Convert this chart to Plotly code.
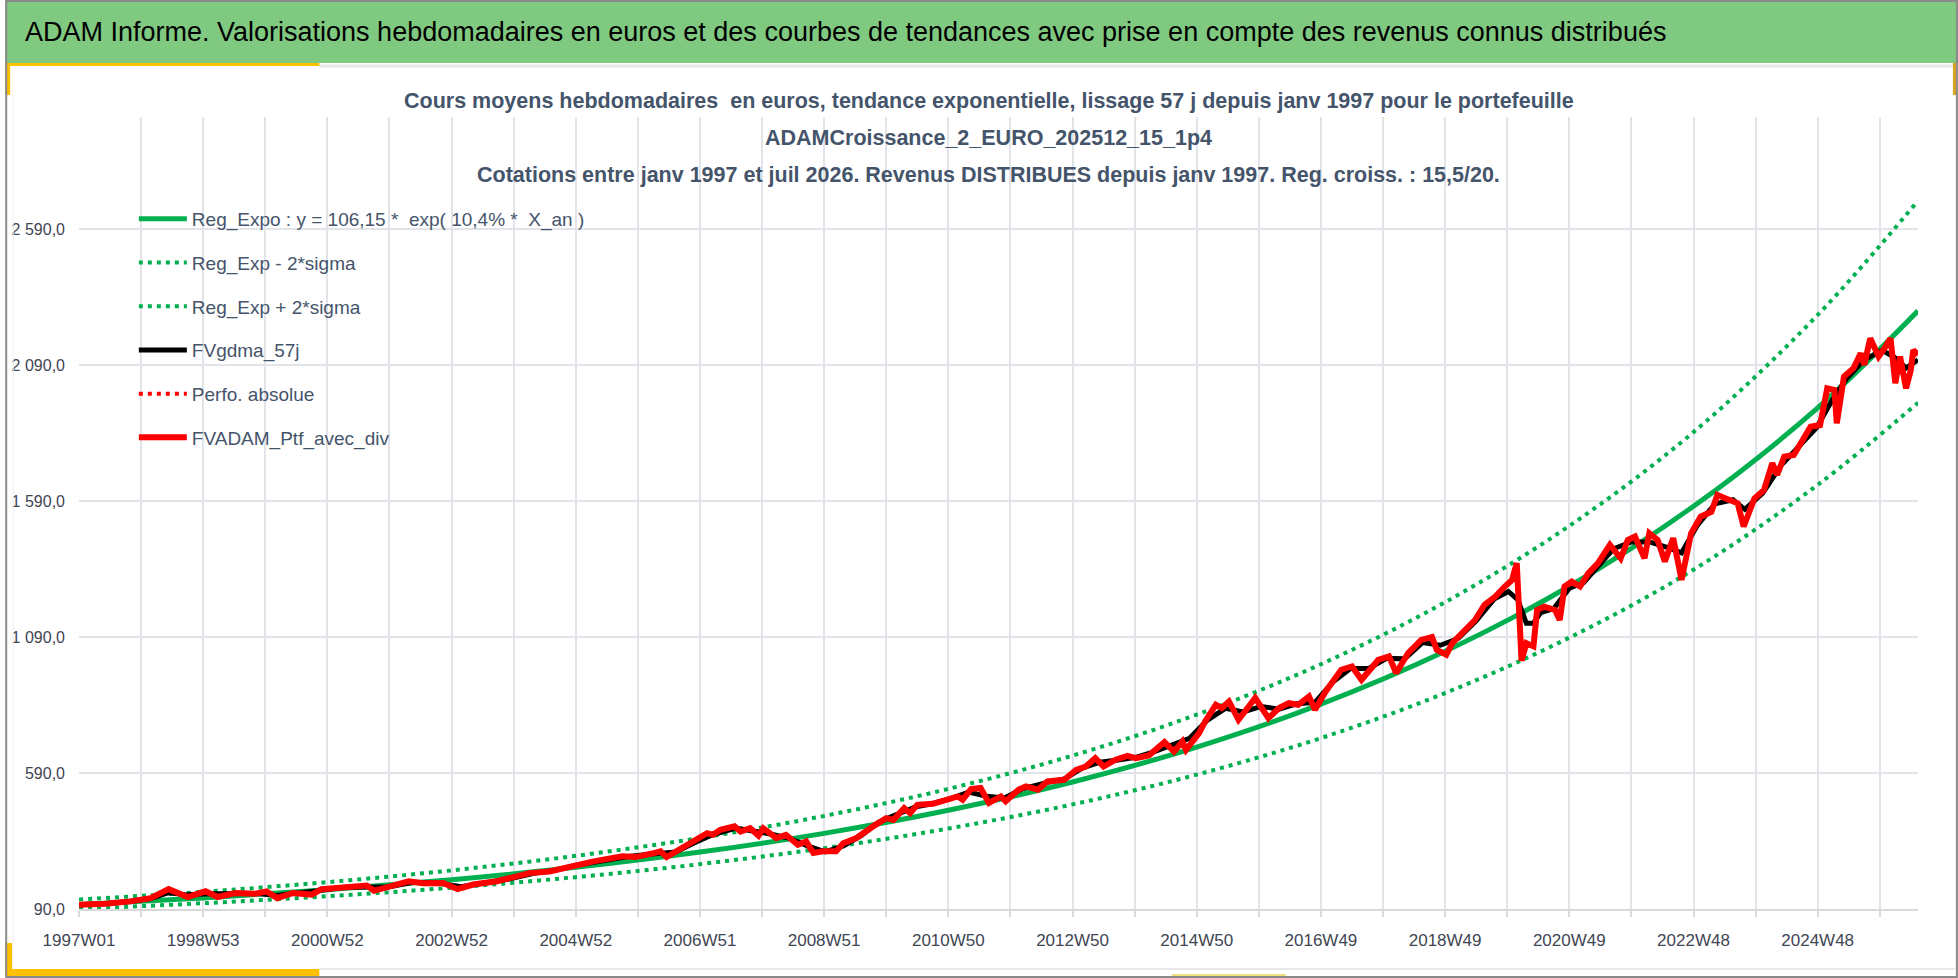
import plotly.graph_objects as go

# ---------------- data ----------------
# x = week index counted from 1997W01 (weekly category axis)
TICK_WEEKS = [0, 104, 208, 312, 416, 520, 624, 728, 832, 936, 1040, 1144, 1248, 1352, 1456]
TICK_LABELS = ["1997W01", "1998W53", "2000W52", "2002W52", "2004W52", "2006W51", "2008W51",
               "2010W50", "2012W50", "2014W50", "2016W49", "2018W49", "2020W49", "2022W48", "2024W48"]
GRID_WEEKS = list(range(0, 1509, 52))
LAST_WEEK = 1540

Y_TICKS = [90, 590, 1090, 1590, 2090, 2590]
Y_LABELS = ["90,0", "590,0", "1 090,0", "1 590,0", "2 090,0", "2 590,0"]

TREND_W = [0, 104, 208, 312, 416, 520, 624, 728, 832, 936, 1040, 1144, 1248, 1352, 1456, 1540]
TREND_V = [106.2, 130.6, 160.7, 197.7, 243.2, 299.3, 368.2, 453.0, 557.2, 685.6, 843.6,
           1037.9, 1277.0, 1571.0, 1933.0, 2290.0]
UPPER_V = [124.7, 153.3, 188.7, 232.1, 285.5, 351.4, 432.3, 531.8, 654.2, 804.9, 990.4,
           1218.5, 1499.0, 1844.0, 2275.0, 2695.0]
LOWER_V = [90.5, 111.3, 136.9, 168.4, 207.2, 255.0, 313.7, 386.0, 474.7, 584.1, 718.7,
           884.3, 1088.0, 1338.0, 1650.0, 1952.0]

RED_W = [0, 22, 43, 60, 75, 91, 106, 116, 131, 148, 157, 166, 179, 195, 203, 220, 241, 247,
         261, 276, 288, 305, 317, 330, 350, 363, 377, 394, 414, 431, 455, 466, 479, 487, 492,
         503, 515, 526, 531, 537, 549, 554, 562, 569, 573, 584, 592, 602, 609, 615, 623, 634,
         640, 651, 665, 676, 682, 691, 696, 702, 715, 726, 736, 740, 747, 755, 762, 772, 776,
         787, 793, 803, 811, 825, 835, 843, 851, 858, 868, 878, 885, 896, 909, 917, 924, 927,
         938, 943, 952, 957, 963, 971, 977, 985, 996, 1005, 1013, 1021, 1030, 1035, 1044,
         1057, 1066, 1074, 1088, 1097, 1103, 1113, 1124, 1133, 1137, 1145, 1150, 1161, 1169,
         1177, 1186, 1194, 1200, 1204, 1208, 1212, 1218, 1221, 1227, 1236, 1240, 1244, 1250,
         1257, 1264, 1272, 1282, 1291, 1297, 1303, 1311, 1315, 1322, 1328, 1335, 1342, 1350,
         1358, 1367, 1372, 1383, 1389, 1394, 1403, 1411, 1418, 1422, 1428, 1436, 1442, 1450,
         1458, 1464, 1470, 1472, 1478, 1486, 1492, 1495, 1500, 1507, 1511, 1517, 1521, 1525,
         1530, 1534, 1536, 1540]
RED_V = [106, 109, 118, 130, 163, 134, 155, 134, 149, 146, 155, 130, 149, 143, 163, 171, 176, 157,
         173, 192, 185, 186, 163, 180, 192, 204, 222, 228, 249, 265, 284, 281, 293, 302, 281,
         308, 338, 369, 363, 381, 394, 375, 387, 360, 387, 351, 363, 326, 338, 296, 302, 302,
         332, 351, 394, 424, 418, 461, 443, 473, 477, 492, 504, 492, 531, 535, 480, 504, 486,
         529, 541, 529, 559, 565, 602, 614, 645, 614, 639, 653, 645, 655, 704, 669, 706, 675,
         737, 780, 841, 829, 853, 786, 823, 866, 792, 829, 847, 841, 872, 823, 890,
         970, 982, 933, 1006, 1019, 958, 1031, 1080, 1090, 1043, 1025, 1068, 1117, 1153,
         1209, 1239, 1276, 1300, 1362, 1003, 1068, 1056, 1190, 1202, 1190, 1153, 1276, 1294,
         1276, 1325, 1362, 1429, 1380, 1447, 1460, 1380, 1472, 1447, 1368, 1454, 1300, 1472,
         1533, 1551, 1613, 1594, 1582, 1497, 1600, 1631, 1730, 1687, 1754, 1760, 1803, 1864,
         1870, 2005, 1999, 1876, 2048, 2079, 2134, 2091, 2189, 2122, 2146, 2189, 2024, 2122,
         2005, 2073, 2146, 2128]

BLACK_W = [0, 20, 40, 60, 75, 90, 110, 130, 150, 165, 180, 200, 220, 240, 260, 280, 300, 320,
           340, 360, 380, 400, 420, 440, 460, 480, 500, 515, 530, 550, 565, 580, 595, 610, 625,
           640, 655, 670, 685, 700, 715, 730, 745, 760, 775, 790, 810, 825, 840, 855, 870, 885,
           900, 915, 930, 945, 960, 975, 990, 1005, 1020, 1035, 1050, 1065, 1080, 1095, 1110,
           1125, 1140, 1155, 1170, 1185, 1197, 1205, 1212, 1218, 1224, 1235, 1248, 1260, 1272,
           1285, 1300, 1315, 1330, 1342, 1355, 1370, 1385, 1395, 1410, 1425, 1440, 1455, 1468,
           1480, 1495, 1510, 1520, 1530, 1540]
BLACK_V = [106, 109, 117, 128, 150, 142, 146, 148, 147, 140, 146, 157, 169, 172, 172, 188, 186, 172,
           186, 200, 220, 234, 254, 270, 283, 292, 300, 333, 362, 388, 378, 365, 350, 322, 300,
           322, 360, 410, 438, 465, 478, 496, 520, 505, 498, 532, 555, 568, 608, 630, 638, 648,
           668, 695, 718, 785, 828, 815, 835, 825, 845, 850, 925, 975, 975, 1012, 1010,
           1070, 1060, 1085, 1150, 1230, 1258, 1227, 1141, 1141, 1180, 1195, 1270, 1290, 1350,
           1415, 1440, 1440, 1420, 1400, 1500, 1580, 1595, 1560, 1620, 1720, 1790, 1860, 1960,
           2040, 2110, 2145, 2120, 2080, 2110]

# ---------------- geometry helpers (figure pixels -> paper coords) ----------------
W, H = 1958, 978
PL, PR, PT, PB = 74, 1918, 117, 909


def px(x):
    return (x - PL) / (PR - PL)


def py(y):
    return (PB - y) / (PB - PT)


FONT = "Liberation Sans Narrow, Arial Narrow, Liberation Sans, Arial, sans-serif"
GREEN = "#00B050"
TXT = "#44546A"

fig = go.Figure()

fig.add_trace(go.Scatter(x=TREND_W, y=TREND_V, mode="lines", name="Reg_Expo : y = 106,15 *  exp( 10,4% *  X_an )",
                         line=dict(color=GREEN, width=5, shape="spline"), legendgroup="a"))
fig.add_trace(go.Scatter(x=TREND_W, y=LOWER_V, mode="lines", name="Reg_Exp - 2*sigma",
                         line=dict(color=GREEN, width=4, dash="4px,5px", shape="spline"), legendgroup="b"))
fig.add_trace(go.Scatter(x=TREND_W, y=UPPER_V, mode="lines", name="Reg_Exp + 2*sigma",
                         line=dict(color=GREEN, width=4, dash="4px,5px", shape="spline"), legendgroup="c"))
fig.add_trace(go.Scatter(x=BLACK_W, y=BLACK_V, mode="lines", name="FVgdma_57j",
                         line=dict(color="#000000", width=5), legendgroup="d"))
fig.add_trace(go.Scatter(x=[None], y=[None], mode="lines", name="Perfo. absolue",
                         line=dict(color="#FF0000", width=4, dash="4px,5px"), legendgroup="e"))
fig.add_trace(go.Scatter(x=RED_W, y=RED_V, mode="lines", name="FVADAM_Ptf_avec_div",
                         line=dict(color="#FF0000", width=6), legendgroup="f"))

tickvals = GRID_WEEKS
ticktext = [TICK_LABELS[TICK_WEEKS.index(w)] if w in TICK_WEEKS else "" for w in GRID_WEEKS]

shapes = [
    # header band
    dict(type="rect", xref="paper", yref="paper", x0=px(0), x1=px(W), y0=py(63), y1=py(0),
         fillcolor="#80C980", line=dict(width=0), layer="above"),
    # light separator lines
    dict(type="line", xref="paper", yref="paper", x0=px(315), x1=px(1953), y0=py(66), y1=py(66),
         line=dict(color="#E4E6EA", width=3)),
    dict(type="line", xref="paper", yref="paper", x0=px(315), x1=px(1955), y0=py(969), y1=py(969),
         line=dict(color="#E8E8EA", width=2)),
    dict(type="line", xref="paper", yref="paper", x0=px(8), x1=px(8), y0=py(95), y1=py(943),
         line=dict(color="#EEEEEE", width=1)),
    # yellow accents
    dict(type="rect", xref="paper", yref="paper", x0=px(0), x1=px(315), y0=py(66), y1=py(63),
         fillcolor="#FFC000", line=dict(width=0)),
    dict(type="rect", xref="paper", yref="paper", x0=px(0), x1=px(5), y0=py(95), y1=py(63),
         fillcolor="#FFC000", line=dict(width=0)),
    dict(type="rect", xref="paper", yref="paper", x0=px(1953), x1=px(1957), y0=py(95), y1=py(63),
         fillcolor="#D9A520", line=dict(width=0)),
    dict(type="rect", xref="paper", yref="paper", x0=px(0), x1=px(7), y0=py(976), y1=py(943),
         fillcolor="#FFC000", line=dict(width=0)),
    dict(type="rect", xref="paper", yref="paper", x0=px(0), x1=px(315), y0=py(976), y1=py(969),
         fillcolor="#FFC000", line=dict(width=0)),
    dict(type="rect", xref="paper", yref="paper", x0=px(1170), x1=px(1284), y0=py(977), y1=py(974),
         fillcolor="#F2E27A", line=dict(width=0)),
    # outer border
    dict(type="rect", xref="paper", yref="paper", x0=px(1), x1=px(W - 1), y0=py(H - 1), y1=py(1),
         line=dict(color="#8A8A8A", width=2), layer="above"),
]

annotations = [
    dict(text="ADAM Informe. Valorisations hebdomadaires en euros et des courbes de tendances avec prise en compte des revenus connus distribués",
         xref="paper", yref="paper", x=px(18), y=py(32), xanchor="left", yanchor="middle",
         showarrow=False, font=dict(family=FONT, size=27, color="#000000")),
    dict(text="Cours moyens hebdomadaires  en euros, tendance exponentielle, lissage 57 j depuis janv 1997 pour le portefeuille",
         xref="paper", yref="paper", x=px(986), y=py(101), xanchor="center", yanchor="middle",
         showarrow=False, font=dict(family=FONT, size=21.5, color=TXT, weight="bold")),
    dict(text="ADAMCroissance_2_EURO_202512_15_1p4",
         xref="paper", yref="paper", x=px(986), y=py(138), xanchor="center", yanchor="middle",
         showarrow=False, font=dict(family=FONT, size=21.5, color=TXT, weight="bold")),
    dict(text="Cotations entre janv 1997 et juil 2026. Revenus DISTRIBUES depuis janv 1997. Reg. croiss. : 15,5/20.",
         xref="paper", yref="paper", x=px(986), y=py(175), xanchor="center", yanchor="middle",
         showarrow=False, font=dict(family=FONT, size=21.5, color=TXT, weight="bold")),
]

fig.update_layout(
    width=W, height=H, autosize=False,
    margin=dict(l=PL, r=W - PR, t=PT, b=H - PB, pad=0),
    paper_bgcolor="white", plot_bgcolor="white",
    font=dict(family=FONT, color=TXT),
    shapes=shapes, annotations=annotations,
    showlegend=True,
    legend=dict(x=px(129), y=py(200), xanchor="left", yanchor="top",
                font=dict(family=FONT, size=19, color=TXT),
                bgcolor="rgba(0,0,0,0)", traceorder="grouped", tracegroupgap=16,
                itemwidth=48),
    xaxis=dict(range=[0, LAST_WEEK], tickmode="array", tickvals=tickvals, ticktext=ticktext,
               showgrid=True, gridcolor="#E2E4EA", gridwidth=1.5, zeroline=False,
               showline=True, linecolor="#D9D9D9", linewidth=2,
               ticks="outside", ticklen=6, tickcolor="#D9D9D9", tickwidth=1.5,
               ticklabelstandoff=9,
               tickfont=dict(family=FONT, size=17, color="#3F4654")),
    yaxis=dict(range=[90, 3003], tickmode="array", tickvals=Y_TICKS, ticktext=Y_LABELS,
               showgrid=True, gridcolor="#E2E4EA", gridwidth=1.5, zeroline=False,
               showline=False, ticks="", ticklabelstandoff=13,
               tickfont=dict(family=FONT, size=16, color="#3F4654")),
)

fig.write_html("out.html", config={"displayModeBar": False},
               post_script="document.body.style.margin='0';document.body.style.overflow='hidden';")
